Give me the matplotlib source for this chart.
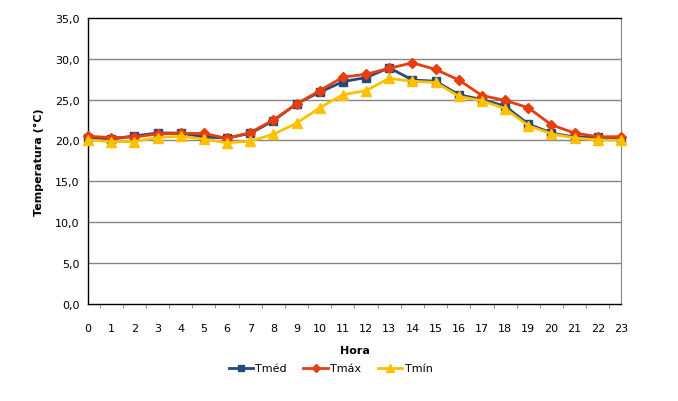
import numpy as np
import matplotlib.pyplot as plt
from matplotlib.ticker import MultipleLocator, FuncFormatter

# Hourly temperatures
horas = list(range(24))
t_med = [20.35, 20.15, 20.55, 20.9, 20.9, 20.4, 20.3, 20.85, 22.4, 24.5, 25.9, 27.2,
         27.7, 28.9, 27.4, 27.25, 25.6, 25.0, 24.2, 22.0, 20.9, 20.4, 20.4, 20.1]
t_max = [20.5, 20.35, 20.4, 20.8, 20.85, 20.85, 20.25, 20.95, 22.5, 24.45, 26.1, 27.75,
         28.1, 28.85, 29.5, 28.7, 27.4, 25.5, 24.9, 24.0, 21.9, 20.9, 20.45, 20.45]
t_min = [20.05, 19.85, 19.85, 20.35, 20.5, 20.15, 19.7, 19.9, 20.75, 22.1, 24.0, 25.6,
         26.1, 27.6, 27.25, 27.1, 25.4, 24.85, 23.9, 21.8, 20.8, 20.3, 20.05, 20.0]

plt.rcParams['font.family'] = ['DejaVu Sans']

fig = plt.figure(figsize=(6.78, 4.02), dpi=100)
ax = fig.add_axes([0.1298, 0.2425, 0.7861, 0.7102])

ax.plot(horas, t_med, color='#24497D', lw=2, marker='s', ms=6, label='Tméd', zorder=3, clip_on=False)
ax.plot(horas, t_max, color='#E63E0E', lw=2, marker='D', ms=5.5, label='Tmáx', zorder=4, clip_on=False)
ax.plot(horas, t_min, color='#FFC000', lw=2, marker='^', ms=6.5, label='Tmín', zorder=5, clip_on=False)

ax.set_xlim(0, 23)
ax.set_ylim(0, 35)
ax.xaxis.set_major_locator(MultipleLocator(1))
ax.xaxis.set_minor_locator(MultipleLocator(0.5))
ax.yaxis.set_major_locator(MultipleLocator(5))
ax.yaxis.set_major_formatter(FuncFormatter(lambda v, p: f'{v:.1f}'.replace('.', ',')))

for y in range(5, 35, 5):
    ax.axhline(y, color='#868686', lw=1, zorder=1)

ax.tick_params(axis='x', which='major', length=0, pad=14, labelsize=8)
ax.tick_params(axis='x', which='minor', length=3, color='#808080', direction='out')
ax.tick_params(axis='y', which='major', length=0, pad=6, labelsize=8)

for s in ['left', 'bottom', 'top']:
    ax.spines[s].set_color('black')
    ax.spines[s].set_linewidth(1)
ax.spines['right'].set_color('#868686')

ax.set_xlabel('Hora', fontsize=8, fontweight='bold', labelpad=9)
ax.set_ylabel('Temperatura (°C)', fontsize=8, fontweight='bold', labelpad=8)

ax.legend(loc='upper center', bbox_to_anchor=(0.455, -0.175), ncol=3, frameon=False,
          fontsize=8, handlelength=2.2, handletextpad=0.2, columnspacing=1.5,
          markerscale=0.8)

fig.savefig('out.png', dpi=100)
